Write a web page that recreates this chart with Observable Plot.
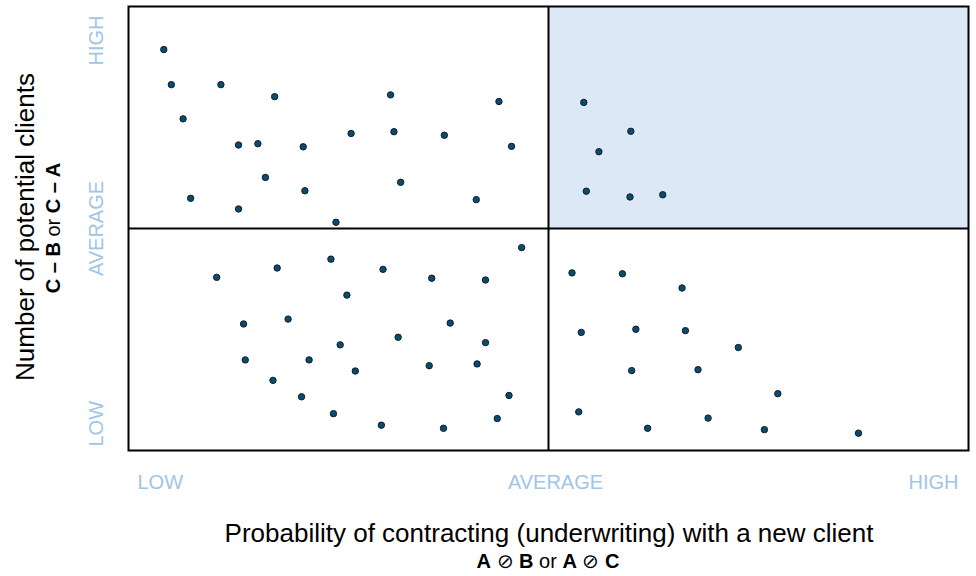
<!DOCTYPE html>
<html>
<head>
<meta charset="utf-8">
<script src="https://cdn.jsdelivr.net/npm/d3@7"></script>
<script src="https://cdn.jsdelivr.net/npm/@observablehq/plot@0.6"></script>
<style>
  html, body { margin: 0; padding: 0; background: #ffffff; }
  #chart { width: 976px; height: 576px; }
</style>
</head>
<body>
<div id="chart"></div>
<script>
// ---- data ----
const xValues = [
  0.42, 0.51, 1.10, 1.74, 3.12, 4.41, 0.65, 1.31, 1.54, 2.08, 2.65, 3.16, 3.76, 4.56, 1.63, 2.10, 3.24, 0.74, 1.31, 4.14, 2.47,
  5.42, 5.98, 5.60, 5.45, 5.97, 6.36,
  4.68, 1.05, 1.77, 2.41, 3.03, 3.61, 4.25, 2.60, 1.37, 1.90, 3.83, 3.21, 2.52, 4.25, 1.39, 2.15, 2.70, 3.58, 4.15, 1.72, 2.06, 4.53, 2.44, 4.39, 3.01, 3.75,
  5.28, 5.88, 6.59, 5.39, 6.04, 6.63, 7.26, 5.99, 6.78, 7.73, 5.36, 6.18, 6.90, 7.57, 8.69
];
const yValues = [
  9.03, 8.24, 8.24, 7.97, 8.01, 7.86, 7.47, 6.88, 6.91, 6.84, 7.14, 7.18, 7.10, 6.85, 6.15, 5.85, 6.04, 5.68, 5.44, 5.65, 5.14,
  7.84, 7.19, 6.73, 5.84, 5.71, 5.76,
  4.57, 3.90, 4.11, 4.31, 4.08, 3.88, 3.84, 3.50, 2.85, 2.96, 2.87, 2.55, 2.38, 2.43, 2.04, 2.04, 1.79, 1.91, 1.95, 1.58, 1.21, 1.24, 0.83, 0.72, 0.57, 0.50,
  4.00, 3.98, 3.66, 2.66, 2.73, 2.70, 2.32, 1.80, 1.82, 1.28, 0.87, 0.50, 0.73, 0.47, 0.39
];
const levelLabels = ["LOW", "AVERAGE", "HIGH"];
const levelValues = [0, 5, 10];
const highlight = [{x1: 5, x2: 10, y1: 5, y2: 10}];
const xTitle = "Probability of contracting (underwriting) with a new client";
const xSubtitle = [["A", true], [" \u2298 ", false], ["B", true], [" or ", false], ["A", true], [" \u2298 ", false], ["C", true]];
const yTitle = "Number of potential clients";
const ySubtitle = [["C \u2013 B", true], [" or ", false], ["C \u2013 A", true]];

// ---- build ----
const points = xValues.map((x, i) => ({x, y: yValues[i]}));
const ticks = levelLabels.map((label, i) => ({label, value: levelValues[i]}));
const tickColor = "#9fc5e8";
const font = "'Liberation Sans', Arial, Helvetica, sans-serif";

const plot = Plot.plot({
  width: 976,
  height: 576,
  marginLeft: 128,
  marginRight: 8,
  marginTop: 6,
  marginBottom: 126,
  style: {fontFamily: font, background: "#ffffff", overflow: "visible"},
  x: {domain: [0, 10], axis: null},
  y: {domain: [0, 10], axis: null},
  marks: [
    Plot.rect(highlight, {x1: "x1", x2: "x2", y1: "y1", y2: "y2", fill: "#dce8f5"}),
    Plot.ruleX([5], {stroke: "#000", strokeWidth: 2}),
    Plot.ruleY([5], {stroke: "#000", strokeWidth: 2}),
    Plot.frame({stroke: "#000", strokeWidth: 2}),
    Plot.dot(points, {x: "x", y: "y", r: 3.2, fill: "#0e4a6c", stroke: "#08202f", strokeWidth: 1}),
    // x level labels
    Plot.text(ticks.slice(0, 1), {x: "value", text: "label", frameAnchor: "bottom", dy: 32, dx: 9, textAnchor: "start", lineAnchor: "middle", fontSize: 20, fill: tickColor}),
    Plot.text(ticks.slice(1, 2), {x: "value", text: "label", frameAnchor: "bottom", dy: 32, dx: 7, textAnchor: "middle", lineAnchor: "middle", fontSize: 20, fill: tickColor}),
    Plot.text(ticks.slice(2, 3), {x: "value", text: "label", frameAnchor: "bottom", dy: 32, dx: -10, textAnchor: "end", lineAnchor: "middle", fontSize: 20, fill: tickColor}),
    // y level labels (rotated)
    Plot.text(ticks.slice(0, 1), {y: "value", text: "label", frameAnchor: "left", dx: -32, dy: -4, rotate: -90, textAnchor: "start", lineAnchor: "middle", fontSize: 20, fill: tickColor}),
    Plot.text(ticks.slice(1, 2), {y: "value", text: "label", frameAnchor: "left", dx: -32, dy: 0, rotate: -90, textAnchor: "middle", lineAnchor: "middle", fontSize: 20, fill: tickColor}),
    Plot.text(ticks.slice(2, 3), {y: "value", text: "label", frameAnchor: "left", dx: -32, dy: 9, rotate: -90, textAnchor: "end", lineAnchor: "middle", fontSize: 20, fill: tickColor})
  ]
});

// ---- titles (mixed weight text) ----
const svg = d3.select(plot);
function addTitle(parts, transform, size) {
  const t = svg.append("text")
    .attr("transform", transform)
    .attr("text-anchor", "middle")
    .attr("font-family", font)
    .attr("font-size", size)
    .attr("fill", "#000");
  for (const [s, bold] of parts) {
    t.append("tspan").attr("font-weight", bold ? "bold" : "normal").text(s);
  }
}
addTitle([[xTitle, false]], "translate(549,542)", 26);
addTitle(xSubtitle, "translate(548,568)", 20);
addTitle([[yTitle, false]], "translate(34,227) rotate(-90)", 26);
addTitle(ySubtitle, "translate(60,228) rotate(-90)", 20);

document.getElementById("chart").appendChild(plot);
</script>
</body>
</html>
